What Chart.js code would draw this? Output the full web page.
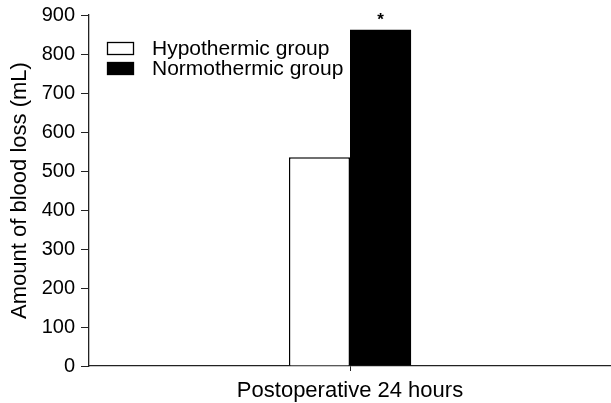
<!DOCTYPE html>
<html>
<head>
<meta charset="utf-8">
<script src="https://cdn.jsdelivr.net/npm/chart.js@4/dist/chart.umd.min.js"></script>
<style>
    html, body { margin: 0; padding: 0; background: #fff; }
    #wrap { width: 611px; height: 403px; position: relative; }
</style>
</head>
<body>
<div id="wrap"><canvas id="bloodChart"></canvas></div>
<script>
var categories = ['Postoperative 24 hours'];
var groupNames = ['Hypothermic group', 'Normothermic group'];
var hypothermic = [535];
var normothermic = [862];
var sigMarks = ['', '*'];
var yTicks = [0, 100, 200, 300, 400, 500, 600, 700, 800, 900];

var FONT = '"Liberation Sans", Arial, Helvetica, sans-serif';

// legend drawn inside the plot area, top-left
var insideLegend = {
    id: 'insideLegend',
    afterDraw: function (chart) {
        var ctx = chart.ctx;
        var x0 = 107, y0 = 42;
        ctx.save();
        chart.data.datasets.forEach(function (ds, i) {
            var y = y0 + i * 20;
            ctx.fillStyle = ds.backgroundColor;
            ctx.fillRect(x0, y, 27, 13);
            ctx.strokeStyle = '#000';
            ctx.lineWidth = 1.3;
            ctx.strokeRect(x0 + 0.5, y + 0.5, 26, 12);
            ctx.fillStyle = '#000';
            ctx.font = '21px ' + FONT;
            ctx.textBaseline = 'middle';
            ctx.fillText(ds.label, 152, y + 7);
        });
        ctx.restore();
    }
};

// significance asterisk above bars
var sigPlugin = {
    id: 'sigPlugin',
    afterDatasetsDraw: function (chart) {
        var ctx = chart.ctx;
        ctx.save();
        ctx.fillStyle = '#000';
        ctx.font = 'bold 17px ' + FONT;
        ctx.textAlign = 'center';
        ctx.textBaseline = 'middle';
        chart.data.datasets.forEach(function (ds, i) {
            if (!sigMarks[i]) return;
            chart.getDatasetMeta(i).data.forEach(function (bar) {
                ctx.fillText(sigMarks[i], bar.x, bar.y - 10);
            });
        });
        ctx.restore();
    }
};

new Chart(document.getElementById('bloodChart'), {
    type: 'bar',
    data: {
        labels: categories,
        datasets: [
            { label: groupNames[0], data: hypothermic, backgroundColor: '#ffffff', borderColor: '#000', borderWidth: 1.5, borderSkipped: 'bottom' },
            { label: groupNames[1], data: normothermic, backgroundColor: '#000000', borderColor: '#000', borderWidth: 0 }
        ]
    },
    options: {
        responsive: true,
        maintainAspectRatio: false,
        animation: false,
        categoryPercentage: 0.234,
        barPercentage: 1,
        layout: { padding: { top: 15, right: 0, left: 0, bottom: 0 } },
        plugins: {
            legend: { display: false },
            tooltip: { enabled: false }
        },
        scales: {
            x: {
                grid: { display: true, drawOnChartArea: false, offset: false, tickLength: 5, color: '#222' },
                border: { color: '#222', width: 1.3 },
                ticks: { display: false },
                title: { display: true, text: categories[0], color: '#000', font: { family: FONT, size: 22 }, padding: { top: 0, bottom: -1 } },
                afterFit: function (scale) { scale.height = 37; }
            },
            y: {
                min: 0,
                max: 900,
                afterBuildTicks: function (scale) {
                    scale.ticks = yTicks.map(function (v) { return { value: v }; });
                },
                grid: { display: true, drawOnChartArea: false, tickLength: 8, color: '#222' },
                border: { color: '#222', width: 1.3 },
                ticks: { color: '#000', font: { family: FONT, size: 20 }, padding: 6 },
                title: { display: true, text: 'Amount of blood loss (mL)', color: '#000', font: { family: FONT, size: 22 }, padding: { top: 7, bottom: 0 } },
                afterFit: function (scale) {
                    scale.width = 89;
                    scale.paddingTop = 0;
                    scale.paddingBottom = 0;
                }
            }
        }
    },
    plugins: [insideLegend, sigPlugin]
});
</script>
</body>
</html>
